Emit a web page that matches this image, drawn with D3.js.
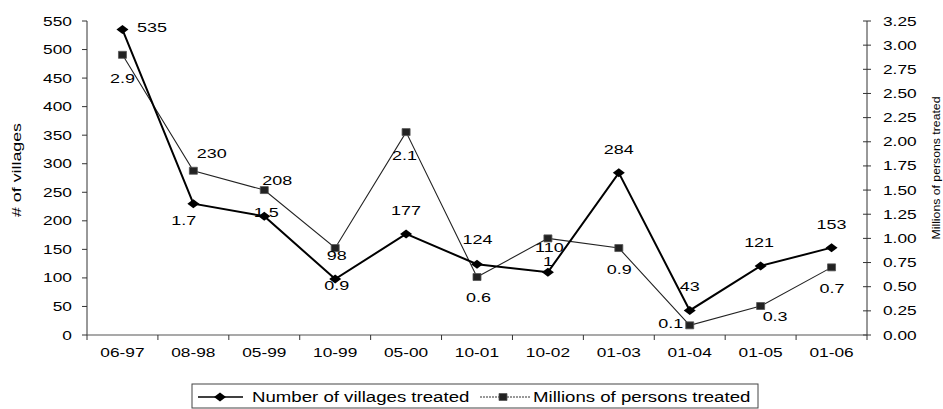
<!DOCTYPE html>
<html>
<head>
<meta charset="utf-8">
<script src="https://cdn.jsdelivr.net/npm/d3@7"></script>
<style>
  html, body { margin: 0; padding: 0; background: #fff; }
  svg { display: block; }
  text { font-family: "Liberation Sans", Arial, sans-serif; fill: #000; }
</style>
</head>
<body>
<svg id="chart" width="943" height="409"></svg>
<script>
// Treatment rounds
const categories = ["06-97", "08-98", "05-99", "10-99", "05-00", "10-01", "10-02", "01-03", "01-04", "01-05", "01-06"];
const villages = [535, 230, 208, 98, 177, 124, 110, 284, 43, 121, 153];
const persons = [2.9, 1.7, 1.5, 0.9, 2.1, 0.6, 1, 0.9, 0.1, 0.3, 0.7];

// Axis ticks
const villageTicks = [0, 50, 100, 150, 200, 250, 300, 350, 400, 450, 500, 550];
const personTicks = [0, 0.25, 0.5, 0.75, 1, 1.25, 1.5, 1.75, 2, 2.25, 2.5, 2.75, 3, 3.25];

// Series names
const seriesNames = ["Number of villages treated", "Millions of persons treated"];
const axisTitles = ["# of villages", "Millions of persons treated"];

// Data-label placement (label centre relative to its point, px)
const villageLabelOffsets = [[29.5, -2.6], [18.5, -50.7], [13, -36.3], [1.5, -24.1], [0, -24], [0.5, -25.2], [1.5, -24.7], [0, -24], [0, -24.5], [-1.5, -23.2], [0, -23.7]];
const personLabelOffsets = [[0, 23.2], [-9.5, 49.3], [2, 21.7], [1.5, 37], [-1.5, 23], [1.5, 20], [0, 22.6], [0.5, 21], [-19, -2.3], [14.5, 10.7], [0.5, 20.6]];

const svg = d3.select("#chart");
const STRETCH = 1.33; // wide lettering

const plot = { left: 87, right: 867, top: 21, bottom: 335 };

const x = d3.scaleBand().domain(categories).range([plot.left, plot.right]).padding(0);
const yL = d3.scaleLinear().domain([0, 550]).range([plot.bottom, plot.top]);
const yR = d3.scaleLinear().domain([0, 3.25]).range([plot.bottom, plot.top]);
const cx = c => x(c) + x.bandwidth() / 2;

// Horizontal text, widened; anchor 0 = start, 0.5 = middle, 1 = end
function wideText(parent, str, ax, cy, size, anchor) {
  const t = parent.append("text")
    .attr("font-size", size)
    .attr("y", cy)
    .attr("dy", "0.35em")
    .text(str);
  const w = t.node().getComputedTextLength() * STRETCH;
  t.attr("textLength", w).attr("lengthAdjust", "spacingAndGlyphs")
   .attr("x", ax - w * anchor);
  return t;
}

const diamondPath = "M-6,0L0,-4.5L6,0L0,4.5Z";
const squarePath = "M-4,-3.5H4V3.5H-4Z";

// Axes
const axisColor = "#333";
const axes = svg.append("g");

// left axis
axes.append("line").attr("x1", plot.left).attr("x2", plot.left)
  .attr("y1", yL(550)).attr("y2", yL(0)).attr("stroke", axisColor).attr("stroke-width", 1);
villageTicks.forEach(v => {
  axes.append("line").attr("x1", plot.left - 5).attr("x2", plot.left)
    .attr("y1", yL(v)).attr("y2", yL(v)).attr("stroke", axisColor);
  wideText(axes, String(v), 72, yL(v), 13, 1);
});

// right axis
axes.append("line").attr("x1", plot.right).attr("x2", plot.right)
  .attr("y1", yR(3.25)).attr("y2", yR(0)).attr("stroke", axisColor).attr("stroke-width", 1);
personTicks.forEach(p => {
  axes.append("line").attr("x1", plot.right - 4).attr("x2", plot.right + 4)
    .attr("y1", yR(p)).attr("y2", yR(p)).attr("stroke", axisColor);
  wideText(axes, d3.format(".2f")(p), 883, yR(p), 13, 0);
});

// category axis
axes.append("line").attr("x1", plot.left).attr("x2", plot.right)
  .attr("y1", plot.bottom).attr("y2", plot.bottom).attr("stroke", "#555").attr("stroke-width", 1.2);
const boundaries = categories.map(c => x(c)).concat([plot.right]);
boundaries.forEach(bx => {
  axes.append("line").attr("x1", bx).attr("x2", bx)
    .attr("y1", plot.bottom).attr("y2", plot.bottom + 5).attr("stroke", axisColor);
});
categories.forEach(c => wideText(axes, c, cx(c), 352, 13, 0.5));

// axis titles
axes.append("text")
  .attr("transform", `translate(21,${170}) rotate(-90)`)
  .attr("text-anchor", "middle").attr("font-size", 13)
  .attr("textLength", 94).attr("lengthAdjust", "spacingAndGlyphs")
  .text(axisTitles[0]);
axes.append("text")
  .attr("transform", `translate(940,${168}) rotate(-90)`)
  .attr("text-anchor", "middle").attr("font-size", 11.5)
  .attr("textLength", 143).attr("lengthAdjust", "spacingAndGlyphs")
  .text(axisTitles[1]);

// Lines
const lineV = d3.line().x((d, i) => cx(categories[i])).y(d => yL(d));
const lineP = d3.line().x((d, i) => cx(categories[i])).y(d => yR(d));

svg.append("path").datum(persons).attr("d", lineP)
  .attr("fill", "none").attr("stroke", "#222").attr("stroke-width", 1.1);
svg.append("path").datum(villages).attr("d", lineV)
  .attr("fill", "none").attr("stroke", "#000").attr("stroke-width", 2);

// Markers
svg.append("g").selectAll("path").data(persons).join("path")
  .attr("d", squarePath)
  .attr("transform", (d, i) => `translate(${cx(categories[i])},${yR(d)})`)
  .attr("fill", "#222").attr("stroke", "#555").attr("stroke-width", 0.8);
svg.append("g").selectAll("path").data(villages).join("path")
  .attr("d", diamondPath)
  .attr("transform", (d, i) => `translate(${cx(categories[i])},${yL(d)})`)
  .attr("fill", "#000");

// Data labels
const labels = svg.append("g");
villages.forEach((v, i) => {
  const [dx, dy] = villageLabelOffsets[i];
  wideText(labels, String(v), cx(categories[i]) + dx, yL(v) + dy, 13.5, 0.5);
});
persons.forEach((p, i) => {
  const [dx, dy] = personLabelOffsets[i];
  wideText(labels, String(p), cx(categories[i]) + dx, yR(p) + dy, 13.5, 0.5);
});

// Legend
const legend = svg.append("g");
legend.append("rect").attr("x", 192).attr("y", 384).attr("width", 566).attr("height", 24)
  .attr("fill", "none").attr("stroke", "#444").attr("stroke-width", 1);
const ly = 397;
legend.append("line").attr("x1", 198).attr("x2", 243).attr("y1", ly).attr("y2", ly)
  .attr("stroke", "#000").attr("stroke-width", 1.5);
legend.append("path").attr("d", diamondPath).attr("transform", `translate(220,${ly})`).attr("fill", "#000");
wideText(legend, seriesNames[0], 252, ly, 14, 0);
legend.append("line").attr("x1", 480).attr("x2", 530).attr("y1", ly).attr("y2", ly)
  .attr("stroke", "#333").attr("stroke-width", 1).attr("stroke-dasharray", "2,1");
legend.append("path").attr("d", squarePath).attr("transform", `translate(503,${ly})`)
  .attr("fill", "#222").attr("stroke", "#555").attr("stroke-width", 0.8);
wideText(legend, seriesNames[1], 533, ly, 14, 0);
</script>
</body>
</html>
